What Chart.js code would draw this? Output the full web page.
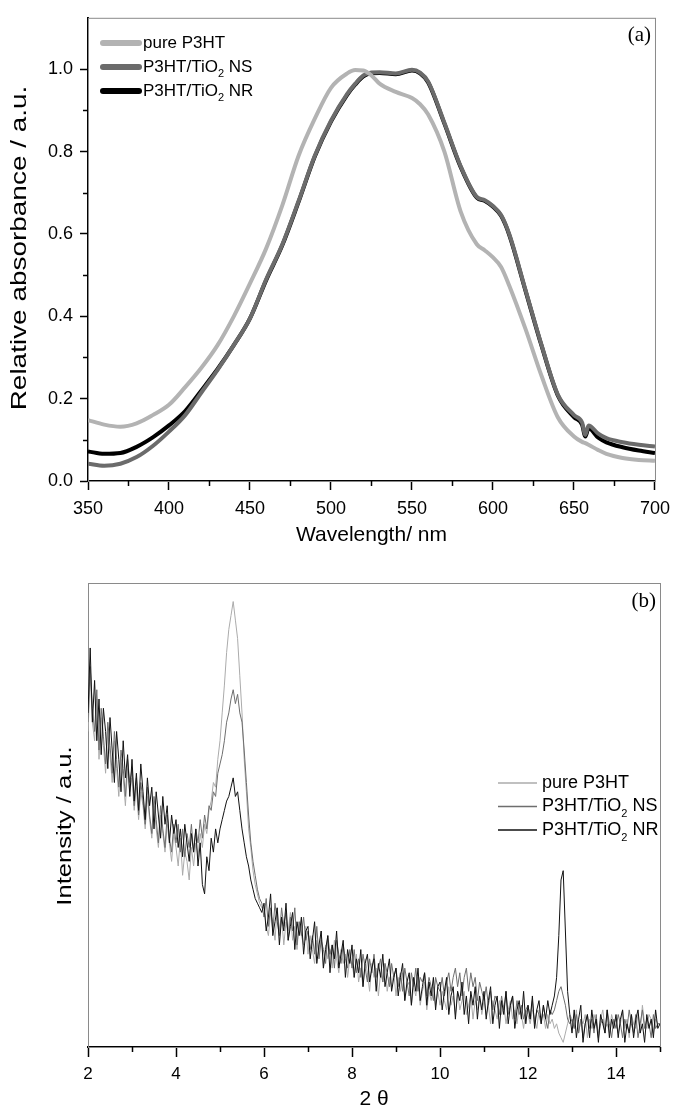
<!DOCTYPE html>
<html>
<head>
<meta charset="utf-8">
<script src="https://cdn.jsdelivr.net/npm/chart.js@4"></script>
<style>
  html, body { margin: 0; padding: 0; background: #fff; }
  body { width: 678px; height: 1109px; position: relative; overflow: hidden; }
  canvas { position: absolute; left: 0; }
  #absChart { top: 0; }
  #xrdChart { top: 550px; }
</style>
</head>
<body>
<canvas id="absChart" width="678" height="550"></canvas>
<canvas id="xrdChart" width="678" height="559"></canvas>
<script>
const FONT = '"Liberation Sans", Arial, sans-serif';
const SERIF = '"Liberation Serif", "Times New Roman", serif';

const seriesLabels = ['pure P3HT', 'P3HT/TiO₂ NS', 'P3HT/TiO₂ NR'];

// (a) relative absorbance vs wavelength (nm)
const wavelength = [350, 360, 370, 380, 390, 400, 410, 420, 430, 440, 450, 460, 470, 480, 490, 500, 510, 515, 520, 525,
  530, 540, 550, 555, 560, 570, 580, 590, 595, 600, 605, 610, 620, 630, 640, 650, 655, 657, 659, 665, 670, 680, 690, 700];
const absPure = [0.148, 0.137, 0.132, 0.140, 0.160, 0.185, 0.228, 0.275, 0.330, 0.400, 0.480, 0.565, 0.670, 0.790, 0.880, 0.955, 0.990, 0.998, 0.997, 0.985,
  0.965, 0.945, 0.930, 0.915, 0.890, 0.800, 0.655, 0.575, 0.560, 0.543, 0.520, 0.475, 0.370, 0.255, 0.155, 0.108, 0.095, 0.092, 0.088, 0.075, 0.066, 0.056, 0.051, 0.049];
const absNS = [0.042, 0.037, 0.042, 0.058, 0.085, 0.120, 0.160, 0.215, 0.270, 0.330, 0.395, 0.490, 0.575, 0.680, 0.790, 0.875, 0.940, 0.965, 0.985, 0.992,
  0.993, 0.990, 0.999, 0.992, 0.970, 0.870, 0.765, 0.690, 0.682, 0.668, 0.646, 0.600, 0.465, 0.330, 0.210, 0.160, 0.142, 0.112, 0.135, 0.115, 0.104, 0.094, 0.088, 0.084];
const absNR = [0.072, 0.066, 0.068, 0.083, 0.106, 0.135, 0.170, 0.220, 0.272, 0.330, 0.395, 0.488, 0.573, 0.678, 0.788, 0.873, 0.938, 0.963, 0.983, 0.990,
  0.991, 0.988, 0.997, 0.990, 0.968, 0.868, 0.763, 0.688, 0.680, 0.666, 0.644, 0.598, 0.463, 0.328, 0.208, 0.155, 0.137, 0.108, 0.128, 0.105, 0.094, 0.082, 0.074, 0.068];

// (b) XRD intensity (a.u.), 0.05 degree steps from 2 to 15, one row per degree
const twoTheta = [];
for (let i = 0; i <= 260; i++) twoTheta.push(+(2 + i * 0.05).toFixed(2));
const xrdPure = [
  68, 80, 70, 66, 75, 62, 71, 65, 59, 68, 63, 57, 66, 60, 54, 62, 58, 52, 60, 55,
  58, 51, 56, 49, 55, 52, 47, 54, 49, 45, 52, 47, 43, 50, 46, 42, 48, 44, 40, 46,
  43, 39, 45, 37, 42, 40, 36, 43, 39, 44, 41, 46, 43, 48, 46, 51, 53, 57, 56, 62,
  66, 72, 78, 85, 90, 93, 96, 92, 88, 80, 72, 62, 55, 47, 43, 38, 35, 33, 31, 30,
  30, 26, 24, 29, 27, 23, 30, 25, 28, 22, 27, 25, 29, 23, 26, 21, 27, 24, 22, 26,
  20, 24, 21, 18, 23, 20, 25, 17, 22, 19, 21, 17, 23, 19, 16, 21, 18, 20, 15, 19,
  18, 15, 20, 14, 17, 13, 19, 16, 12, 18, 15, 17, 11, 16, 14, 18, 12, 15, 13, 16,
  11, 15, 12, 16, 10, 13, 14, 9, 13, 11, 15, 9, 12, 14, 8, 12, 10, 13, 9, 12,
  9, 12, 10, 8, 13, 9, 11, 7, 12, 8, 10, 12, 7, 9, 11, 6, 10, 8, 11, 7,
  10, 7, 9, 5, 10, 8, 6, 10, 7, 9, 5, 8, 10, 6, 8, 5, 9, 7, 4, 8,
  7, 5, 8, 6, 4, 8, 6, 7, 4, 7, 5, 6, 4, 5, 3, 2, 1, 3, 5, 7,
  6, 4, 8, 3, 6, 5, 7, 2, 6, 4, 7, 5, 3, 6, 8, 4, 5, 3, 7, 5,
  6, 3, 5, 8, 4, 6, 2, 7, 5, 4, 7, 3, 9, 5, 4, 7, 6, 3, 6, 5,
  5];
const xrdNS = [
  70, 82, 73, 68, 77, 64, 73, 67, 61, 70, 65, 59, 68, 62, 56, 64, 60, 54, 62, 57,
  60, 52, 58, 50, 57, 53, 48, 56, 50, 46, 54, 49, 44, 52, 47, 43, 50, 45, 42, 48,
  44, 48, 42, 47, 41, 46, 43, 48, 42, 47, 44, 49, 45, 50, 47, 52, 51, 55, 54, 59,
  61, 63, 66, 70, 72, 75, 77, 74, 76, 72, 70, 64, 57, 50, 44, 40, 37, 34, 32, 31,
  28, 32, 26, 30, 25, 31, 27, 24, 30, 26, 29, 23, 28, 25, 30, 22, 27, 24, 28, 23,
  25, 21, 24, 20, 26, 19, 23, 21, 18, 24, 20, 22, 17, 23, 20, 18, 22, 19, 17, 21,
  17, 21, 16, 19, 15, 20, 17, 14, 19, 16, 20, 15, 17, 19, 14, 18, 16, 13, 18, 15,
  17, 13, 16, 12, 17, 14, 11, 16, 13, 17, 12, 15, 14, 16, 11, 15, 13, 10, 15, 13,
  12, 15, 11, 14, 16, 12, 15, 17, 13, 16, 11, 15, 17, 12, 16, 13, 15, 10, 14, 12,
  10, 13, 9, 12, 8, 11, 10, 7, 11, 8, 12, 7, 9, 11, 6, 10, 7, 9, 6, 8,
  9, 6, 10, 5, 8, 7, 5, 9, 6, 4, 8, 7, 8, 10, 12, 13, 11, 9, 6, 5,
  6, 4, 7, 3, 6, 2, 5, 7, 4, 6, 3, 7, 2, 5, 6, 3, 8, 5, 2, 6,
  4, 7, 5, 2, 6, 4, 8, 5, 3, 7, 2, 5, 8, 4, 6, 5, 2, 7, 4, 5,
  5];
const xrdNR = [
  72, 86, 70, 79, 66, 75, 63, 73, 68, 60, 71, 64, 57, 68, 62, 55, 66, 58, 63, 54,
  62, 53, 59, 51, 61, 55, 49, 58, 52, 56, 47, 55, 50, 45, 54, 48, 52, 44, 50, 46,
  49, 43, 47, 41, 48, 44, 40, 46, 42, 47, 39, 44, 35, 33, 41, 38, 45, 42, 47, 44,
  47, 49, 51, 53, 54, 56, 58, 54, 55, 51, 47, 44, 41, 39, 36, 34, 32, 31, 30, 29,
  31, 25, 28, 33, 24, 27, 30, 22, 28, 25, 31, 23, 26, 29, 21, 27, 24, 28, 20, 25,
  26, 19, 23, 27, 18, 22, 25, 17, 21, 24, 16, 22, 19, 25, 17, 20, 23, 15, 21, 18,
  22, 15, 19, 16, 21, 13, 18, 20, 14, 17, 19, 12, 18, 15, 20, 13, 16, 19, 12, 15,
  17, 11, 15, 18, 10, 14, 16, 9, 15, 12, 17, 10, 13, 16, 9, 14, 11, 15, 8, 13,
  14, 8, 12, 15, 7, 11, 13, 6, 12, 10, 14, 7, 11, 5, 12, 9, 13, 6, 11, 8,
  12, 6, 10, 13, 5, 9, 11, 4, 10, 7, 12, 5, 9, 11, 4, 8, 10, 6, 12, 5,
  9, 6, 11, 4, 8, 10, 5, 9, 6, 10, 7, 9, 11, 15, 24, 36, 38, 25, 12, 7,
  3, 8, 2, 6, 9, 1, 5, 7, 2, 8, 4, 6, 1, 7, 5, 3, 8, 2, 6, 4,
  7, 2, 6, 8, 1, 5, 3, 7, 2, 6, 8, 3, 5, 1, 7, 4, 6, 2, 8, 4,
  5];

function toPoints(xs, ys) {
  return xs.map((x, i) => ({ x: x, y: ys[i] }));
}

// legend text with a subscript 2
function drawLabel(ctx, text, x, y, size) {
  const parts = text.split('₂');
  ctx.fillStyle = '#000';
  ctx.textAlign = 'left';
  ctx.textBaseline = 'middle';
  let cx = x;
  parts.forEach((part, i) => {
    if (i > 0) {
      ctx.font = Math.round(size * 0.62) + 'px ' + FONT;
      ctx.fillText('2', cx, y + size * 0.42);
      cx += ctx.measureText('2').width;
    }
    ctx.font = size + 'px ' + FONT;
    ctx.fillText(part, cx, y);
    cx += ctx.measureText(part).width;
  });
}

// frame, minor ticks, y title, panel letter and legend
const panelDecor = {
  id: 'panelDecor',
  beforeDatasetsDraw(chart) {
    const { ctx, chartArea: a } = chart;
    ctx.save();
    ctx.strokeStyle = '#8a8a8a';
    ctx.lineWidth = 1;
    ctx.strokeRect(a.left + 0.5, a.top + 0.5, a.right - a.left, a.bottom - a.top);
    ctx.restore();
  },
  afterDraw(chart, args, opts) {
    const { ctx, chartArea: a } = chart;
    ctx.save();
    ctx.strokeStyle = '#000';
    ctx.lineWidth = 1.5;
    (opts.minor || []).forEach(m => {
      const scale = chart.scales[m.axis];
      const major = scale.ticks.map(t => t.value);
      const step = major[1] - major[0];
      const vals = [];
      for (let i = 0; i < major.length - 1; i++) vals.push(major[i] + step / 2);
      if (m.extend && major[major.length - 1] + step / 2 <= scale.max + 1e-9) vals.push(major[major.length - 1] + step / 2);
      vals.forEach(v => {
        const p = Math.round(scale.getPixelForValue(v)) + 0.5;
        ctx.beginPath();
        if (scale.isHorizontal()) {
          ctx.moveTo(p, a.bottom);
          ctx.lineTo(p, a.bottom + m.length);
        } else {
          ctx.moveTo(a.left, p);
          ctx.lineTo(a.left - m.length, p);
        }
        ctx.stroke();
      });
    });

    // rotated y title, stretched along its length like the original
    const yt = opts.yTitle;
    ctx.save();
    ctx.translate(yt.x, yt.y);
    ctx.rotate(-Math.PI / 2);
    ctx.scale(yt.stretch, 1);
    ctx.font = yt.size + 'px ' + FONT;
    ctx.fillStyle = '#000';
    ctx.textAlign = 'center';
    ctx.textBaseline = 'middle';
    ctx.fillText(yt.text, 0, 0);
    ctx.restore();

    ctx.font = '21px ' + SERIF;
    ctx.fillStyle = '#000';
    ctx.textAlign = 'right';
    ctx.textBaseline = 'middle';
    ctx.fillText(opts.letter, a.right - 4, a.top + 18);

    const lg = opts.legend;
    chart.data.datasets.forEach((ds, i) => {
      const y = lg.y + i * lg.gap;
      ctx.strokeStyle = ds.borderColor;
      ctx.lineWidth = lg.lineWidth;
      ctx.lineCap = lg.cap;
      ctx.beginPath();
      ctx.moveTo(lg.x, y);
      ctx.lineTo(lg.x + lg.len, y);
      ctx.stroke();
      drawLabel(ctx, ds.label, lg.x + lg.len + lg.pad, y, lg.size);
    });
    ctx.restore();
  }
};

new Chart(document.getElementById('absChart'), {
  type: 'line',
  data: {
    datasets: [
      { label: seriesLabels[0], data: toPoints(wavelength, absPure), borderColor: '#b3b3b3', borderWidth: 4, order: 0 },
      { label: seriesLabels[1], data: toPoints(wavelength, absNS), borderColor: '#6b6b6b', borderWidth: 4, order: 1 },
      { label: seriesLabels[2], data: toPoints(wavelength, absNR), borderColor: '#000000', borderWidth: 4, order: 2 }
    ]
  },
  options: {
    responsive: false,
    animation: false,
    events: [],
    layout: { padding: { top: 15, right: 18, bottom: 0, left: 0 } },
    elements: { point: { radius: 0 }, line: { cubicInterpolationMode: 'monotone' } },
    plugins: {
      legend: { display: false },
      tooltip: { enabled: false },
      panelDecor: {
        letter: '(a)',
        minor: [{ axis: 'x', length: 5 }, { axis: 'y', length: 5 }],
        yTitle: { text: 'Relative absorbance / a.u.', x: 20, y: 248, size: 22, stretch: 1.27 },
        legend: { x: 103, y: 43, gap: 24, len: 36, pad: 4, lineWidth: 6, cap: 'round', size: 17 }
      }
    },
    scales: {
      x: {
        type: 'linear', min: 350, max: 700,
        ticks: { stepSize: 50, includeBounds: false, padding: 8, maxRotation: 0, autoSkip: false, color: '#000', font: { family: FONT, size: 18 } },
        grid: { drawOnChartArea: false, drawTicks: true, tickLength: 9, tickWidth: 1.5, tickColor: '#000' },
        border: { display: true, color: '#000', width: 2 },
        title: { display: true, text: 'Wavelength/ nm', color: '#000', font: { family: FONT, size: 21 }, padding: { top: 0, bottom: 2 } },
        afterFit: s => { s.height = 69; }
      },
      y: {
        type: 'linear', min: 0, max: 1.125,
        ticks: { stepSize: 0.2, includeBounds: false, padding: 7, color: '#000', font: { family: FONT, size: 18 }, callback: v => v.toFixed(1) },
        grid: { drawOnChartArea: false, drawTicks: true, tickLength: 8, tickWidth: 1.5, tickColor: '#000' },
        border: { display: true, color: '#000', width: 2 },
        afterFit: s => { s.width = 88; }
      }
    }
  },
  plugins: [panelDecor]
});

new Chart(document.getElementById('xrdChart'), {
  type: 'line',
  data: {
    datasets: [
      { label: seriesLabels[0], data: toPoints(twoTheta, xrdPure), borderColor: '#ababab', borderWidth: 1, order: 2 },
      { label: seriesLabels[1], data: toPoints(twoTheta, xrdNS), borderColor: '#6e6e6e', borderWidth: 1, order: 1 },
      { label: seriesLabels[2], data: toPoints(twoTheta, xrdNR), borderColor: '#111111', borderWidth: 1, order: 0 }
    ]
  },
  options: {
    responsive: false,
    animation: false,
    events: [],
    layout: { padding: { top: 33, right: 18, bottom: 0, left: 0 } },
    elements: { point: { radius: 0 }, line: { tension: 0 } },
    plugins: {
      legend: { display: false },
      tooltip: { enabled: false },
      panelDecor: {
        letter: '(b)',
        minor: [{ axis: 'x', length: 5, extend: true }],
        yTitle: { text: 'Intensity / a.u.', x: 65, y: 276, size: 20, stretch: 1.28 },
        legend: { x: 498, y: 233, gap: 23.5, len: 39, pad: 5, lineWidth: 1.3, cap: 'butt', size: 18 }
      }
    },
    scales: {
      x: {
        type: 'linear', min: 2, max: 15,
        ticks: { stepSize: 2, includeBounds: false, padding: 7, maxRotation: 0, autoSkip: false, color: '#000', font: { family: FONT, size: 17 } },
        grid: { drawOnChartArea: false, drawTicks: true, tickLength: 10, tickWidth: 1.5, tickColor: '#000' },
        border: { display: true, color: '#000', width: 2 },
        title: { display: true, text: '2 θ', color: '#000', font: { family: FONT, size: 21, lineHeight: 1 }, padding: { top: 0, bottom: -1 } },
        afterFit: s => { s.height = 62; }
      },
      y: {
        type: 'linear', min: 0, max: 100,
        ticks: { display: false },
        grid: { display: false },
        border: { display: false },
        afterFit: s => { s.width = 88; }
      }
    }
  },
  plugins: [panelDecor]
});
</script>
</body>
</html>
